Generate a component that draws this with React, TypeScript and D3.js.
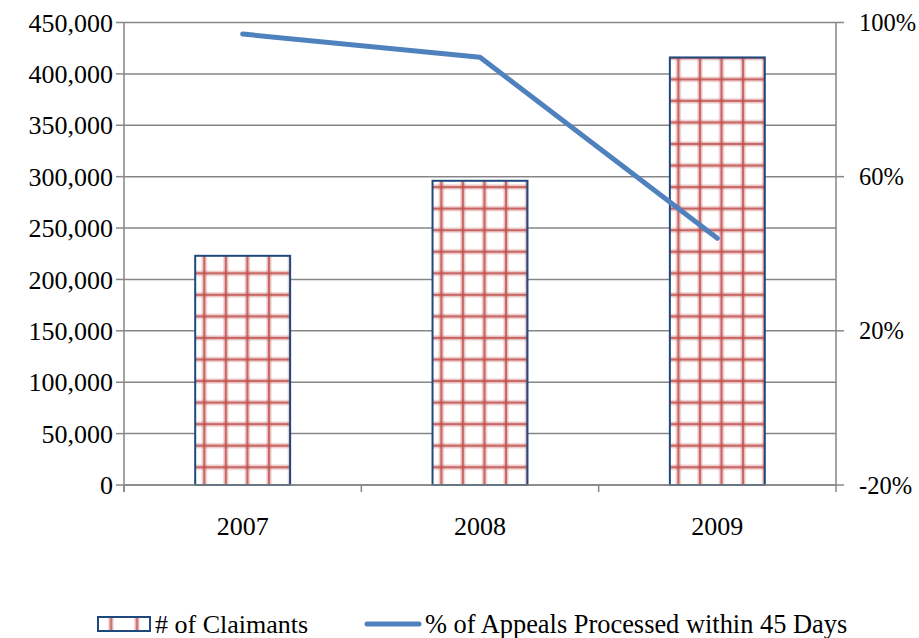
import React from "react";
import * as d3 from "d3";

// Claimants per year (bars, left axis) and share of appeals processed within 45 days (line, right axis)
const years = ["2007", "2008", "2009"];
const claimants = [223000, 296000, 416000];
const appealsPct = [97, 91, 44];

const leftTicks = [0, 50000, 100000, 150000, 200000, 250000, 300000, 350000, 400000, 450000];
const rightTicks = [-20, 20, 60, 100];

const legendLabels = ["# of Claimants", "% of Appeals Processed within 45 Days"];

const W = 919;
const H = 638;
const M = { left: 124, right: 836, top: 22.5, bottom: 485 };

const FONT = "Liberation Serif, Times New Roman, Times, serif";
const AXIS = "#868686";
const GRID_RED = "#C0504D";
const BAR_EDGE = "#1F497D";
const LINE_BLUE = "#4F81BD";

const CELL = 21.55;
const FS = 26;

const textStyle: React.CSSProperties = { fontFamily: FONT, fontSize: FS };
const rightStyle: React.CSSProperties = { fontFamily: FONT, fontSize: 24.5 };

export default function App() {
  const x = d3.scaleBand<string>().domain(years).range([M.left, M.right]).padding(0);
  const yL = d3.scaleLinear().domain([0, 450000]).range([M.bottom, M.top]);
  const yR = d3.scaleLinear().domain([-20, 100]).range([M.bottom, M.top]);
  const fmt = d3.format(",");
  const barW = x.bandwidth() * 0.4;
  const cx = (c: string) => (x(c) as number) + x.bandwidth() / 2;

  const line = d3
    .line<number>()
    .x((_, i) => cx(years[i]))
    .y((d) => yR(d));

  const boundaries = [...years.map((c) => x(c) as number), M.right];

  return (
    <svg
      width={W}
      height={H}
      style={{ position: "absolute", left: 0, top: 0, background: "#fff", fontFamily: FONT }}
    >
      <defs>
        <pattern
          id="cross"
          patternUnits="userSpaceOnUse"
          x={204.3 - CELL / 2}
          y={273.3 - CELL / 2}
          width={CELL}
          height={CELL}
        >
          <rect width={CELL} height={CELL} fill="#fff" />
          <line x1={CELL / 2} x2={CELL / 2} y1={0} y2={CELL} stroke={GRID_RED} strokeOpacity={0.35} strokeWidth={5} />
          <line x1={0} x2={CELL} y1={CELL / 2} y2={CELL / 2} stroke={GRID_RED} strokeOpacity={0.35} strokeWidth={5} />
          <line x1={CELL / 2} x2={CELL / 2} y1={0} y2={CELL} stroke={GRID_RED} strokeOpacity={0.8} strokeWidth={2} />
          <line x1={0} x2={CELL} y1={CELL / 2} y2={CELL / 2} stroke={GRID_RED} strokeOpacity={0.8} strokeWidth={2} />
        </pattern>
        <pattern id="crossLegend" patternUnits="userSpaceOnUse" x={98 + 13 - CELL / 2} y={0} width={26} height={40}>
          <rect width={26} height={40} fill="#fff" />
          <line x1={CELL / 2} x2={CELL / 2} y1={0} y2={40} stroke={GRID_RED} strokeOpacity={0.35} strokeWidth={5} />
          <line x1={CELL / 2} x2={CELL / 2} y1={0} y2={40} stroke={GRID_RED} strokeOpacity={0.8} strokeWidth={2} />
        </pattern>
      </defs>

      {/* horizontal gridlines */}
      {leftTicks.map((t) => (
        <line key={`g${t}`} x1={M.left} x2={M.right} y1={yL(t)} y2={yL(t)} stroke={AXIS} strokeWidth={1.5} />
      ))}

      {/* bars */}
      {years.map((c, i) => (
        <rect
          key={c}
          x={cx(c) - barW / 2}
          y={yL(claimants[i])}
          width={barW}
          height={yL(0) - yL(claimants[i])}
          fill="url(#cross)"
          stroke={BAR_EDGE}
          strokeWidth={2}
        />
      ))}

      {/* left axis */}
      <line x1={M.left} x2={M.left} y1={M.top} y2={M.bottom + 7} stroke={AXIS} strokeWidth={1.5} />
      {leftTicks.map((t) => (
        <g key={`l${t}`}>
          <line x1={M.left - 8} x2={M.left} y1={yL(t)} y2={yL(t)} stroke={AXIS} strokeWidth={1.5} />
          <text x={M.left - 11} y={yL(t)} dy="0.35em" textAnchor="end" style={textStyle} fill="#000">
            {fmt(t)}
          </text>
        </g>
      ))}

      {/* right axis */}
      <line x1={M.right} x2={M.right} y1={M.top} y2={M.bottom} stroke={AXIS} strokeWidth={1.5} />
      {rightTicks.map((t) => (
        <g key={`r${t}`}>
          <line x1={M.right} x2={M.right + 8} y1={yR(t)} y2={yR(t)} stroke={AXIS} strokeWidth={1.5} />
          <text x={M.right + 23} y={yR(t)} dy="0.35em" textAnchor="start" style={rightStyle} fill="#000">
            {`${t}%`}
          </text>
        </g>
      ))}

      {/* category axis */}
      <line x1={M.left} x2={M.right} y1={M.bottom} y2={M.bottom} stroke={AXIS} strokeWidth={1.5} />
      {boundaries.map((b, i) => (
        <line key={`b${i}`} x1={b} x2={b} y1={M.bottom} y2={M.bottom + 7} stroke={AXIS} strokeWidth={1.5} />
      ))}
      {years.map((c) => (
        <text key={`t${c}`} x={cx(c)} y={M.bottom + 50} textAnchor="middle" style={textStyle} fill="#000">
          {c}
        </text>
      ))}

      {/* percentage line */}
      <path
        d={line(appealsPct) ?? ""}
        fill="none"
        stroke={LINE_BLUE}
        strokeWidth={5}
        strokeLinecap="round"
        strokeLinejoin="round"
      />

      {/* legend */}
      <rect x={98} y={617} width={52} height={14} fill="url(#crossLegend)" stroke={BAR_EDGE} strokeWidth={2} />
      <text x={155} y={633} style={textStyle} fill="#000">
        {legendLabels[0]}
      </text>
      <line x1={367} x2={419} y1={624} y2={624} stroke={LINE_BLUE} strokeWidth={5} strokeLinecap="round" />
      <text x={425} y={633} style={{ ...textStyle, fontSize: 26.4 }} fill="#000">
        {legendLabels[1]}
      </text>
    </svg>
  );
}
